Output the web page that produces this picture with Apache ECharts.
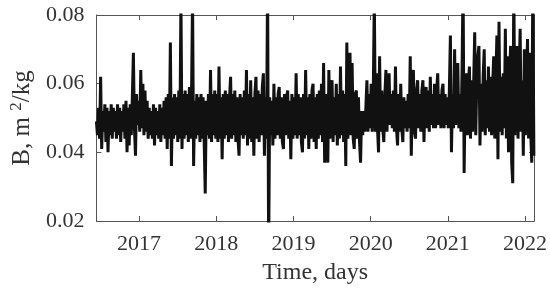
<!DOCTYPE html>
<html>
<head>
<meta charset="utf-8">
<script src="https://cdn.jsdelivr.net/npm/echarts@6/dist/echarts.min.js"></script>
<style>
  html, body { margin: 0; padding: 0; background: #fff; }
  #chart { width: 550px; height: 294px; }
</style>
</head>
<body>
<div id="chart"></div>
<script>
// sampling: one reading every 5 days, starting mid-June 2016 (decimal years)
const startYear = 2016.447;
const endYear = 2022.116;
const stepYears = 5 / 365.25;

const yearTicks = [2017, 2018, 2019, 2020, 2021, 2022];
const yTicks = [0.02, 0.04, 0.06, 0.08];

// B, m^2/kg
const bValues = [
  0.049, 0.045, 0.053, 0.044, 0.062, 0.041, 0.052, 0.046, 0.054, 0.043,
  0.053, 0.040, 0.052, 0.045, 0.054, 0.044, 0.053, 0.046, 0.052, 0.044,
  0.054, 0.045, 0.053, 0.043, 0.052, 0.046, 0.054, 0.044, 0.055, 0.040,
  0.053, 0.042, 0.054, 0.045, 0.056, 0.069, 0.047, 0.039, 0.057, 0.048,
  0.055, 0.046, 0.064, 0.047, 0.060, 0.045, 0.058, 0.046, 0.055, 0.044,
  0.053, 0.045, 0.052, 0.044, 0.054, 0.042, 0.053, 0.045, 0.052, 0.044,
  0.054, 0.043, 0.053, 0.045, 0.055, 0.044, 0.056, 0.041, 0.057, 0.044,
  0.072, 0.036, 0.056, 0.044, 0.057, 0.045, 0.056, 0.043, 0.058, 0.044,
  0.085, 0.041, 0.057, 0.044, 0.058, 0.045, 0.057, 0.043, 0.059, 0.044,
  0.056, 0.085, 0.036, 0.055, 0.044, 0.057, 0.045, 0.056, 0.043, 0.057,
  0.044, 0.056, 0.043, 0.028, 0.055, 0.045, 0.057, 0.044, 0.064, 0.043,
  0.057, 0.045, 0.058, 0.044, 0.057, 0.043, 0.065, 0.044, 0.056, 0.038,
  0.057, 0.044, 0.058, 0.045, 0.057, 0.043, 0.056, 0.062, 0.044, 0.057,
  0.045, 0.058, 0.043, 0.056, 0.044, 0.039, 0.057, 0.045, 0.056, 0.044,
  0.058, 0.045, 0.064, 0.042, 0.057, 0.044, 0.061, 0.043, 0.056, 0.039,
  0.057, 0.062, 0.044, 0.058, 0.043, 0.057, 0.045, 0.059, 0.063, 0.039,
  0.056, 0.044, 0.090, 0.010, 0.056, 0.045, 0.055, 0.042, 0.060, 0.044,
  0.056, 0.045, 0.057, 0.059, 0.044, 0.056, 0.043, 0.041, 0.057, 0.045,
  0.056, 0.058, 0.044, 0.055, 0.038, 0.057, 0.044, 0.056, 0.045, 0.063,
  0.044, 0.057, 0.045, 0.056, 0.043, 0.040, 0.057, 0.044, 0.064, 0.045,
  0.056, 0.041, 0.057, 0.044, 0.058, 0.060, 0.043, 0.056, 0.041, 0.057,
  0.044, 0.058, 0.045, 0.060, 0.043, 0.066, 0.037, 0.057, 0.044, 0.037,
  0.064, 0.044, 0.057, 0.061, 0.043, 0.056, 0.045, 0.060, 0.042, 0.057,
  0.044, 0.065, 0.045, 0.058, 0.043, 0.057, 0.036, 0.072, 0.044, 0.057,
  0.069, 0.045, 0.066, 0.044, 0.041, 0.057, 0.058, 0.044, 0.056, 0.043,
  0.037, 0.052, 0.045, 0.052, 0.046, 0.053, 0.061, 0.046, 0.057, 0.047,
  0.060, 0.046, 0.057, 0.085, 0.046, 0.063, 0.047, 0.040, 0.068, 0.046,
  0.058, 0.047, 0.043, 0.057, 0.064, 0.046, 0.058, 0.063, 0.048, 0.057,
  0.047, 0.058, 0.046, 0.065, 0.047, 0.042, 0.057, 0.046, 0.060, 0.047,
  0.043, 0.056, 0.047, 0.055, 0.046, 0.057, 0.047, 0.068, 0.039, 0.058,
  0.064, 0.046, 0.044, 0.058, 0.061, 0.047, 0.057, 0.046, 0.058, 0.061,
  0.043, 0.057, 0.059, 0.047, 0.058, 0.046, 0.062, 0.048, 0.057, 0.047,
  0.060, 0.047, 0.058, 0.063, 0.048, 0.057, 0.047, 0.058, 0.060, 0.047,
  0.057, 0.048, 0.056, 0.047, 0.058, 0.074, 0.040, 0.057, 0.047, 0.070,
  0.048, 0.058, 0.066, 0.047, 0.057, 0.046, 0.063, 0.090, 0.034, 0.058,
  0.063, 0.045, 0.060, 0.065, 0.044, 0.061, 0.046, 0.060, 0.075, 0.045,
  0.061, 0.068, 0.071, 0.042, 0.060, 0.046, 0.062, 0.070, 0.045, 0.061,
  0.047, 0.065, 0.046, 0.062, 0.045, 0.060, 0.068, 0.044, 0.061, 0.074,
  0.038, 0.078, 0.046, 0.062, 0.045, 0.063, 0.047, 0.076, 0.044, 0.068,
  0.040, 0.062, 0.071, 0.037, 0.031, 0.090, 0.045, 0.062, 0.071, 0.044,
  0.062, 0.076, 0.046, 0.061, 0.039, 0.070, 0.045, 0.062, 0.073, 0.044,
  0.069, 0.046, 0.037, 0.090, 0.039
];

const seriesData = bValues.map((v, i) => [startYear + i * stepYears, v]);

const chart = echarts.init(document.getElementById('chart'), null, { renderer: 'canvas' });

const axisColor = '#555';
const font = '"Liberation Serif", "Times New Roman", Times, serif';

const option = {
  animation: false,
  backgroundColor: '#fff',
  grid: { left: 94, right: 15, top: 15, bottom: 73 },
  xAxis: [
    {
      type: 'value',
      min: startYear,
      max: endYear,
      name: 'Time, days',
      nameLocation: 'middle',
      nameGap: 40,
      nameTextStyle: { fontFamily: font, fontSize: 24, color: '#333' },
      axisLine: { show: true, lineStyle: { color: axisColor, width: 1 } },
      axisTick: { show: true, inside: true, length: 5, customValues: yearTicks, lineStyle: { color: axisColor } },
      axisLabel: { customValues: yearTicks, fontFamily: font, fontSize: 22, color: '#333', margin: 12, formatter: v => String(Math.round(v)) },
      splitLine: { show: false }
    },
    {
      type: 'value',
      position: 'top',
      min: startYear,
      max: endYear,
      axisLine: { show: true, lineStyle: { color: axisColor, width: 1 } },
      axisTick: { show: true, inside: true, length: 5, customValues: yearTicks, lineStyle: { color: axisColor } },
      axisLabel: { show: false },
      splitLine: { show: false }
    }
  ],
  yAxis: [
    {
      type: 'value',
      min: 0.02,
      max: 0.08,
      interval: 0.02,
      name: 'B, m {sup|2}/kg',
      nameLocation: 'middle',
      nameGap: 54,
      nameRotate: 90,
      nameTextStyle: {
        fontFamily: font, fontSize: 25, color: '#333',
        rich: { sup: { fontFamily: font, fontSize: 17, color: '#333', padding: [0, 0, 12, 0] } }
      },
      axisLine: { show: true, lineStyle: { color: axisColor, width: 1 } },
      axisTick: { show: true, inside: true, length: 5, lineStyle: { color: axisColor } },
      axisLabel: { fontFamily: font, fontSize: 22, color: '#333', margin: 12, formatter: v => v.toFixed(2) },
      splitLine: { show: false }
    },
    {
      type: 'value',
      position: 'right',
      min: 0.02,
      max: 0.08,
      interval: 0.02,
      axisLine: { show: true, lineStyle: { color: axisColor, width: 1 } },
      axisTick: { show: true, inside: true, length: 5, lineStyle: { color: axisColor } },
      axisLabel: { show: false },
      splitLine: { show: false }
    }
  ],
  series: [
    {
      type: 'line',
      data: seriesData,
      showSymbol: false,
      symbol: 'none',
      clip: true,
      lineStyle: { color: '#111', width: 3 }
    }
  ]
};

chart.setOption(option);
</script>
</body>
</html>
